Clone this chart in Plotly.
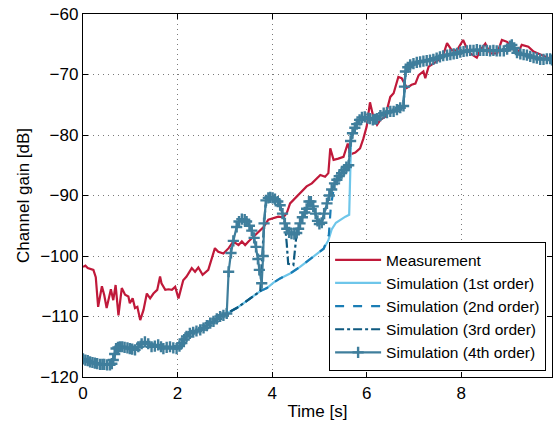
import plotly.graph_objects as go

# ---- Measurement ----
meas_t = [0.00, 0.05, 0.10, 0.22, 0.27, 0.32, 0.40, 0.45, 0.50, 0.59, 0.64, 0.69, 0.75, 0.82, 0.89,
          0.96, 0.99, 1.05, 1.10, 1.15, 1.21, 1.28, 1.35, 1.42, 1.49, 1.57, 1.63, 1.66, 1.74, 1.81,
          1.88, 1.95, 2.02, 2.12, 2.19, 2.30, 2.37, 2.44, 2.53, 2.65, 2.79, 2.86, 2.97, 3.08, 3.18,
          3.29, 3.36, 3.43, 3.50, 3.57, 3.68, 3.82, 3.92, 4.03, 4.13, 4.24, 4.31, 4.38, 4.52, 4.63,
          4.73, 4.84, 4.95, 5.02, 5.12, 5.19, 5.23, 5.30, 5.40, 5.51, 5.60, 5.66, 5.76, 5.86, 5.93,
          6.00, 6.07, 6.14, 6.22, 6.29, 6.39, 6.50, 6.57, 6.67, 6.74, 6.85, 6.95, 7.03, 7.10, 7.20,
          7.24, 7.31, 7.41, 7.52, 7.63, 7.70, 7.80, 7.91, 8.04, 8.12, 8.19, 8.33, 8.40, 8.51, 8.61,
          8.76, 8.86, 8.97, 9.07, 9.14, 9.21, 9.28, 9.42, 9.53, 9.71, 9.85, 9.92]
meas_db = [-101.8, -101.6, -102.0, -102.3, -103.5, -108.4, -105.0, -106.5, -108.6, -105.5, -107.3, -104.8, -109.8, -105.3, -106.4,
           -106.7, -107.8, -107.0, -108.6, -108.4, -110.6, -108.9, -106.2, -107.0, -106.2, -105.6, -103.4, -104.5, -105.6, -105.5,
           -105.6, -105.1, -107.0, -104.0, -103.4, -102.0, -102.6, -101.9, -103.1, -102.3, -98.7, -99.3, -99.6, -98.7, -97.6,
           -98.2, -97.6, -98.2, -97.6, -97.1, -96.3, -95.2, -94.0, -93.8, -93.5, -93.6, -92.9, -91.3, -90.2, -89.4,
           -88.5, -88.0, -87.2, -86.6, -86.9, -86.3, -82.2, -84.1, -83.9, -83.6, -81.4, -83.2, -82.9, -82.2, -80.6,
           -78.6, -74.6, -77.0, -78.3, -77.5, -77.0, -73.7, -73.1, -70.4, -70.6, -72.2, -71.7, -71.5, -70.1, -69.5,
           -70.6, -68.7, -68.2, -67.6, -66.5, -64.8, -66.0, -66.0, -64.3, -65.7, -66.5, -67.2, -66.0, -64.9, -66.5,
           -66.5, -64.3, -64.6, -65.6, -66.2, -66.3, -65.1, -65.4, -66.2, -66.8, -67.2, -67.5]

# ---- Common start of all simulations (0 .. 3.04 s) ----
base_t = [0.00, 0.05, 0.10, 0.15, 0.20, 0.25, 0.30, 0.36, 0.41, 0.45, 0.51, 0.57, 0.61, 0.64, 0.67, 0.70,
          0.74, 0.78, 0.83, 0.88, 0.94, 0.99, 1.04, 1.10, 1.17, 1.24, 1.31, 1.38, 1.45, 1.52, 1.59, 1.65,
          1.70, 1.77, 1.84, 1.91, 1.98, 2.04, 2.09, 2.14, 2.19, 2.26, 2.33, 2.40, 2.48, 2.55, 2.62, 2.69,
          2.76, 2.83, 2.90, 2.97, 3.04]
base_db = [-117.0, -117.2, -117.3, -117.5, -117.6, -117.7, -117.8, -117.9, -117.9, -117.9, -118.0, -118.0, -117.8, -117.2, -116.2, -115.3,
           -115.1, -115.0, -115.0, -115.1, -115.2, -115.3, -115.4, -115.5, -115.0, -114.5, -114.2, -114.5, -115.0, -114.9, -114.7, -115.0,
           -115.3, -115.1, -115.0, -115.2, -115.3, -114.9, -114.4, -113.8, -113.3, -112.8, -112.6, -112.4, -112.2, -111.9, -111.5, -111.1,
           -110.8, -110.4, -110.0, -109.8, -109.5]

# ---- 1st order continuation ----
o1_t = [3.25, 3.45, 3.60, 3.75, 3.89, 4.03, 4.17, 4.38, 4.59, 4.73, 4.87, 5.00, 5.09, 5.19, 5.26, 5.35,
        5.44, 5.55, 5.63, 5.67, 5.71]
o1_db = [-108.6, -107.5, -106.7, -105.8, -105.3, -104.4, -103.7, -102.9, -101.8, -101.0, -100.1, -99.4, -98.8, -97.4, -95.6, -94.5,
         -94.0, -93.5, -93.2, -81.0, -79.5]

# ---- 4th order continuation ----
o4_t = [3.08, 3.13, 3.18, 3.25, 3.30, 3.36, 3.42, 3.46, 3.52, 3.57, 3.62, 3.66, 3.70, 3.73, 3.78, 3.81,
        3.83, 3.87, 3.92, 3.96, 4.01, 4.06, 4.12, 4.17, 4.22, 4.27, 4.31, 4.36, 4.41, 4.47, 4.52, 4.56,
        4.59, 4.64, 4.69, 4.73, 4.78, 4.82, 4.87, 4.92, 4.96, 5.00, 5.05, 5.10, 5.16, 5.21, 5.26, 5.32,
        5.37, 5.42, 5.47, 5.52, 5.57, 5.62, 5.66, 5.70, 5.75, 5.79, 5.85, 5.90, 5.96, 6.02, 6.07, 6.13,
        6.18, 6.22, 6.29, 6.36, 6.43, 6.50, 6.57, 6.64, 6.71, 6.78, 6.80, 6.82, 6.87, 6.92, 6.99, 7.06,
        7.13, 7.20, 7.27, 7.34, 7.41, 7.48, 7.55, 7.62, 7.70, 7.77, 7.84, 7.91, 7.98, 8.05, 8.12, 8.19,
        8.26, 8.33, 8.40, 8.47, 8.54, 8.61, 8.68, 8.75, 8.82, 8.90, 8.97, 9.03, 9.07, 9.12, 9.18, 9.25,
        9.32, 9.39, 9.46, 9.53, 9.60, 9.67, 9.74, 9.81, 9.88, 9.92]
o4_db = [-102.6, -99.5, -97.5, -95.2, -94.3, -93.9, -94.0, -94.3, -95.0, -95.8, -97.0, -98.5, -100.5, -102.3, -104.5, -100.0,
         -94.6, -90.8, -90.4, -90.3, -90.4, -90.6, -91.0, -91.6, -93.0, -94.6, -95.5, -96.1, -96.3, -96.4, -96.2, -95.5,
         -94.6, -93.6, -92.8, -92.2, -91.0, -91.0, -91.8, -93.0, -94.2, -94.7, -94.5, -93.0, -91.3, -90.0, -89.0, -88.0,
         -87.4, -86.8, -86.3, -85.8, -85.3, -85.0, -81.0, -79.7, -78.8, -78.2, -77.5, -77.1, -77.0, -77.2, -77.3, -77.5,
         -77.4, -77.3, -76.8, -76.4, -76.3, -76.1, -76.1, -75.8, -75.5, -75.2, -72.0, -69.5, -68.8, -68.4, -68.2, -68.0,
         -67.9, -67.8, -67.7, -67.6, -67.5, -67.3, -67.1, -66.9, -66.8, -66.7, -66.6, -66.5, -66.3, -66.2, -66.1, -66.0,
         -66.0, -65.9, -66.0, -66.0, -66.0, -66.1, -66.0, -66.1, -66.1, -66.1, -65.8, -65.3, -65.1, -65.6, -66.4, -66.6,
         -66.7, -66.8, -67.0, -67.2, -67.3, -67.5, -67.5, -67.4, -67.4, -67.6]

# ---- 2nd order continuation (after following 1st order) ----
o2_t = [5.20, 5.24, 5.30, 5.40, 5.50, 5.61, 5.66]
o2_db = [-96.5, -92.0, -89.0, -87.3, -86.6, -86.2, -80.0]

# ---- 3rd order deviation ----
o3_dip_t = [4.31, 4.34, 4.45, 4.50]
o3_dip_db = [-98.0, -101.3, -101.5, -98.0]

# build full series
t1 = base_t + o1_t + [t for t in o4_t if t > 5.71]
y1 = base_db + o1_db + [y for t, y in zip(o4_t, o4_db) if t > 5.71]

o1_pre_t = [t for t in o1_t if t < 5.17]
o1_pre_db = [y for t, y in zip(o1_t, o1_db) if t < 5.17]
t2 = base_t + o1_pre_t + o2_t + [t for t in o4_t if t > 5.66]
y2 = base_db + o1_pre_db + o2_db + [y for t, y in zip(o4_t, o4_db) if t > 5.66]

o1_pre3_t = [t for t in o1_t if t < 3.80]
o1_pre3_db = [y for t, y in zip(o1_t, o1_db) if t < 3.80]
seg_a_t = [t for t in o4_t if 3.82 <= t <= 4.27]
seg_a_db = [y for t, y in zip(o4_t, o4_db) if 3.82 <= t <= 4.27]
seg_b_t = [t for t in o4_t if t >= 4.52]
seg_b_db = [y for t, y in zip(o4_t, o4_db) if t >= 4.52]
t3 = base_t + o1_pre3_t + seg_a_t + o3_dip_t + seg_b_t
y3 = base_db + o1_pre3_db + seg_a_db + o3_dip_db + seg_b_db

t4 = base_t + o4_t
y4 = base_db + o4_db

RED = "#C0193A"
LIGHT = "#6EC6EA"
MID = "#1A7DB5"
DARK = "#0F5A80"
STEEL = "#3F7E9C"

FONT = "Liberation Sans, Arial, Helvetica, sans-serif"

fig = go.Figure()
fig.add_trace(go.Scatter(x=meas_t, y=meas_db, mode="lines", name="Measurement",
                         line=dict(color=RED, width=2.2)))
fig.add_trace(go.Scatter(x=t1, y=y1, mode="lines", name="Simulation (1st order)",
                         line=dict(color=LIGHT, width=2.2)))
fig.add_trace(go.Scatter(x=t2, y=y2, mode="lines", name="Simulation (2nd order)",
                         line=dict(color=MID, width=2.2, dash="dash")))
fig.add_trace(go.Scatter(x=t3, y=y3, mode="lines", name="Simulation (3rd order)",
                         line=dict(color=DARK, width=2.2, dash="dashdot")))
fig.add_trace(go.Scatter(x=t4, y=y4, mode="lines+markers", name="Simulation (4th order)",
                         line=dict(color=STEEL, width=2.2),
                         marker=dict(symbol="cross-thin", size=8, color=STEEL,
                                     line=dict(color=STEEL, width=2.4))))

axis_common = dict(showline=True, linecolor="black", linewidth=1.3, mirror="ticks",
                   ticks="inside", ticklen=5, tickcolor="black", tickwidth=1,
                   showgrid=True, gridcolor="#7a7a7a", gridwidth=1, griddash="1px,4px",
                   zeroline=False, automargin=False,
                   tickfont=dict(size=17, color="black", family=FONT))

fig.update_xaxes(range=[0, 9.92], tickvals=[0, 2, 4, 6, 8],
                 title=dict(text="Time [s]", font=dict(size=17, color="black", family=FONT), standoff=3),
                 **axis_common)
fig.update_yaxes(range=[-120, -60], tickvals=[-120, -110, -100, -90, -80, -70, -60],
                 title=dict(text="Channel gain [dB]", font=dict(size=17, color="black", family=FONT), standoff=6),
                 **axis_common)

fig.update_layout(
    width=555, height=424,
    margin=dict(l=83, r=3, t=14, b=47, autoexpand=False),
    paper_bgcolor="white", plot_bgcolor="white",
    font=dict(family=FONT, color="black"),
    showlegend=True,
    legend=dict(x=0.987, y=0.0165, xanchor="right", yanchor="bottom",
                bgcolor="white", bordercolor="black", borderwidth=1.2,
                font=dict(size=15.5, color="black", family=FONT), itemwidth=46,
                tracegroupgap=0),
)

fig.write_html("out.html", config={"displayModeBar": False},
               post_script="document.body.style.margin='0';document.body.style.padding='0';")
